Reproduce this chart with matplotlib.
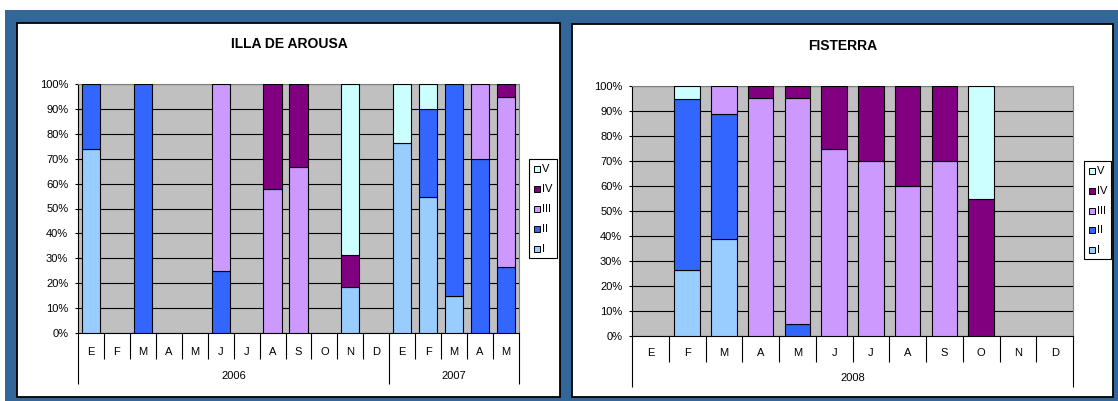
import numpy as np
import matplotlib
matplotlib.use("Agg")
import matplotlib.pyplot as plt
from matplotlib.patches import Rectangle

plt.rcParams['font.family'] = ['Liberation Sans', 'DejaVu Sans']

# ---- data -------------------------------------------------------------
series_names = ['I', 'II', 'III', 'IV', 'V']
series_colors = ['#99CCFF', '#3366FF', '#CC99FF', '#800080', '#CCFFFF']

arousa_title = 'ILLA DE AROUSA'
arousa_months = ['E', 'F', 'M', 'A', 'M', 'J', 'J', 'A', 'S', 'O', 'N', 'D',
                 'E', 'F', 'M', 'A', 'M']
arousa_years = ['2006', '2007']
arousa_year_counts = [12, 5]
arousa_I = [74.0, 0, 0, 0, 0, 0, 0, 0, 0, 0, 18.5, 0, 76.5, 54.8, 15.0, 0, 0]
arousa_II = [26.0, 0, 100.0, 0, 0, 25.0, 0, 0, 0, 0, 0, 0, 0, 35.2, 85.0, 70.0, 26.5]
arousa_III = [0, 0, 0, 0, 0, 75.0, 0, 57.8, 66.7, 0, 0, 0, 0, 0, 0, 30.0, 68.2]
arousa_IV = [0, 0, 0, 0, 0, 0, 0, 42.2, 33.3, 0, 12.9, 0, 0, 0, 0, 0, 5.3]
arousa_V = [0, 0, 0, 0, 0, 0, 0, 0, 0, 0, 68.6, 0, 23.5, 10.0, 0, 0, 0]

fisterra_title = 'FISTERRA'
fisterra_months = ['E', 'F', 'M', 'A', 'M', 'J', 'J', 'A', 'S', 'O', 'N', 'D']
fisterra_years = ['2008']
fisterra_year_counts = [12]
fisterra_I = [0, 26.3, 38.7, 0, 0, 0, 0, 0, 0, 0, 0, 0]
fisterra_II = [0, 68.5, 50.1, 0, 4.9, 0, 0, 0, 0, 0, 0, 0]
fisterra_III = [0, 0, 11.2, 95.1, 90.2, 75.0, 70.0, 60.0, 70.0, 0, 0, 0]
fisterra_IV = [0, 0, 0, 4.9, 4.9, 25.0, 30.0, 40.0, 30.0, 55.0, 0, 0]
fisterra_V = [0, 5.2, 0, 0, 0, 0, 0, 0, 0, 45.0, 0, 0]

# ---- figure / layout helpers (pixel based) ----------------------------
W, H = 1118, 401
fig = plt.figure(figsize=(W / 100, H / 100), dpi=100)
fig.patch.set_facecolor('white')
FS = 8


def fig_rect(x0, y0, x1, y1):
    """Pixel box (top-left origin) -> figure fraction [l, b, w, h]."""
    return [x0 / W, 1 - y1 / H, (x1 - x0) / W, (y1 - y0) / H]


def add_box(x0, y0, x1, y1, **kw):
    l, b, w, h = fig_rect(x0, y0, x1, y1)
    fig.patches.append(Rectangle((l, b), w, h, transform=fig.transFigure,
                                 figure=fig, **kw))


# blue frame and white panels (behind the axes)
add_box(5, 10, W + 2, H + 2, facecolor='#336699', edgecolor='none', zorder=-3)
add_box(17, 23, 560, 397, facecolor='white', edgecolor='black', lw=1.3, zorder=-2)
add_box(572, 24, 1113, 397, facecolor='white', edgecolor='black', lw=1.3, zorder=-2)


def draw_panel(box, months, years, year_counts, values, title, title_xy,
               legend_box, month_off, year_off):
    ax = fig.add_axes(fig_rect(*box))
    ax.set_zorder(1)
    ax.set_facecolor('#C0C0C0')
    n = len(months)
    x = np.arange(n)
    bottom = np.zeros(n)
    for vals, color in zip(values, series_colors):
        vals = np.asarray(vals, dtype=float)
        m = vals > 0
        ax.bar(x[m], vals[m], bottom=bottom[m], width=0.7, color=color,
               edgecolor='black', linewidth=0.8, zorder=3)
        bottom += vals

    ax.set_xlim(-0.5, n - 0.5)
    ax.set_ylim(0, 100)
    ax.set_yticks(np.arange(0, 101, 10))
    ax.set_yticklabels([f'{v}%' for v in range(0, 101, 10)], fontsize=FS)
    ax.tick_params(axis='y', length=2.5, width=0.8, pad=4.5, color='black')
    ax.yaxis.grid(True, color='black', linewidth=0.8)
    ax.set_axisbelow(True)

    # category axis: month separators and year separators
    year_bounds = np.concatenate([[0], np.cumsum(year_counts)]) - 0.5
    month_bounds = [b for b in np.arange(n + 1) - 0.5 if b not in year_bounds]
    ax.set_xticks(year_bounds)
    ax.set_xticks(month_bounds, minor=True)
    ax.tick_params(axis='x', which='major', length=37, width=0.8,
                   direction='out', labelbottom=False)
    ax.tick_params(axis='x', which='minor', length=19, width=0.8,
                   direction='out', labelbottom=False)
    for xi, lab in zip(x, months):
        ax.annotate(lab, (xi, 0), xycoords=('data', 'axes fraction'),
                    xytext=(0, -month_off), textcoords='offset points',
                    ha='center', va='center', fontsize=FS)
    start = 0
    for yr, cnt in zip(years, year_counts):
        ax.annotate(yr, (start + cnt / 2 - 0.5, 0),
                    xycoords=('data', 'axes fraction'),
                    xytext=(0, -year_off), textcoords='offset points',
                    ha='center', va='center', fontsize=FS)
        start += cnt

    for s in ('top', 'right'):
        ax.spines[s].set_color('#808080')
        ax.spines[s].set_linewidth(0.8)
    for s in ('left', 'bottom'):
        ax.spines[s].set_color('black')
        ax.spines[s].set_linewidth(0.8)

    fig.text(title_xy[0] / W, 1 - title_xy[1] / H, title, ha='center',
             va='center', fontsize=10, fontweight='bold')

    # legend box: reversed series order (V at top)
    lx0, ly0, lx1, ly1 = legend_box
    add_box(lx0, ly0, lx1, ly1, facecolor='white', edgecolor='black',
            lw=0.8, zorder=5)
    step = (ly1 - ly0 - 19) / 4
    for k, (name, color) in enumerate(zip(series_names[::-1],
                                          series_colors[::-1])):
        cy = ly0 + 10 + k * step
        add_box(lx0 + 5, cy - 3, lx0 + 11, cy + 3, facecolor=color,
                edgecolor='black', lw=0.7, zorder=6)
        fig.text((lx0 + 13) / W, 1 - cy / H, name, ha='left', va='center',
                 fontsize=FS, zorder=6)
    return ax


draw_panel((78, 84, 519, 333), arousa_months, arousa_years, arousa_year_counts,
           [arousa_I, arousa_II, arousa_III, arousa_IV, arousa_V],
           arousa_title, (289, 44), (529, 159, 557, 258),
           month_off=13.7, year_off=31)

draw_panel((632, 86, 1073, 336), fisterra_months, fisterra_years,
           fisterra_year_counts,
           [fisterra_I, fisterra_II, fisterra_III, fisterra_IV, fisterra_V],
           fisterra_title, (843, 46), (1084, 161, 1111, 259),
           month_off=12, year_off=30)

fig.savefig('out.png', dpi=100, facecolor=fig.get_facecolor())
